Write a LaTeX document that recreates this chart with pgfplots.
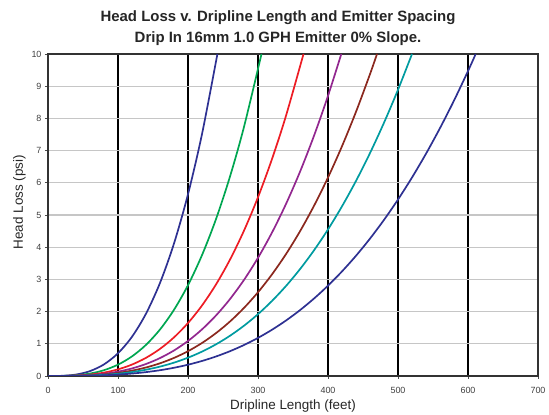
\documentclass[border=0pt]{standalone}
\usepackage{pgfplots}
\pgfplotsset{compat=1.18}
\usepackage{fontspec}
\setmainfont{Liberation Sans}
\definecolor{cblue}{RGB}{46,49,146}
\definecolor{cgreen}{RGB}{0,166,81}
\definecolor{cred}{RGB}{237,28,36}
\definecolor{cpurple}{RGB}{146,39,143}
\definecolor{cbrown}{RGB}{139,40,30}
\definecolor{cteal}{RGB}{0,155,160}
\definecolor{cblue2}{RGB}{46,49,146}
\begin{document}
\begin{tikzpicture}
\useasboundingbox (-48bp,-39bp) rectangle (501bp,376bp);
\begin{axis}[
  at={(0,0)}, anchor=south west,
  width=490bp, height=322bp, scale only axis,
  xmin=0, xmax=700, ymin=0, ymax=10,
  xtick={0,100,...,700}, ytick={0,1,...,10},
  xmajorgrids, ymajorgrids,
  x grid style={black, line width=2.8bp},
  y grid style={gray!45, line width=1.1bp},
  axis line style={black!80, line width=1.8bp},
  tick style={black!70, line width=0.6bp},
  tick align=outside, major tick length=3bp,
  xtick pos=bottom, ytick pos=left,
  ticklabel style={font=\fontsize{9}{10}\selectfont, text=black!75},
  xticklabel style={yshift=-5bp},
  /pgf/number format/assume math mode=true,
  xlabel={Dripline Length (feet)},
  ylabel={Head Loss (psi)},
  label style={font=\fontsize{13.5}{15}\selectfont, text=black!85},
  xlabel style={yshift=1bp},
  ylabel style={at={(ticklabel cs:0.54)}, yshift=-1bp},
  title={Head Loss v. Dripline Length and Emitter Spacing\\Drip In 16mm 1.0 GPH Emitter 0\% Slope.},
  title style={align=center, font=\bfseries\fontsize{15}{20.5}\selectfont, text=black!85, yshift=-1bp, xshift=-15bp},
  every axis plot/.append style={line width=1.7bp, no marks, smooth},
]
\addplot[cblue] coordinates {(0,0)(20,0.0056)(40,0.0452)(60,0.152)(80,0.361)(100,0.706)(120,1.219)(140,1.936)(160,2.890)(180,4.115)(200,5.645)(220,7.513)(242,10)};
\addplot[cgreen] coordinates {(0,0)(20,0.0028)(40,0.0226)(60,0.0761)(80,0.1805)(100,0.3525)(120,0.609)(140,0.967)(160,1.444)(180,2.056)(200,2.820)(220,3.753)(240,4.872)(260,6.195)(280,7.737)(305,10)};
\addplot[cred] coordinates {(0,0)(20,0.0017)(40,0.0132)(60,0.0444)(80,0.1053)(100,0.2056)(120,0.3554)(140,0.5643)(160,0.8423)(180,1.1993)(200,1.6452)(220,2.1897)(240,2.8429)(260,3.6145)(280,4.5144)(300,5.5520)(320,6.7381)(340,8.0820)(365,10)};
\addplot[cpurple] coordinates {(0,0)(20,0.0011)(40,0.0087)(60,0.0294)(80,0.0696)(100,0.1359)(120,0.2349)(140,0.3730)(160,0.5568)(180,0.7928)(200,1.0876)(220,1.4475)(240,1.8793)(260,2.3894)(280,2.9842)(300,3.6705)(320,4.4546)(340,5.3432)(360,6.3424)(380,7.4595)(400,8.7003)(419,10)};
\addplot[cbrown] coordinates {(0,0)(20,0.0008)(40,0.0062)(60,0.0208)(80,0.0493)(100,0.0963)(120,0.1664)(140,0.2643)(160,0.3945)(180,0.5617)(200,0.7705)(220,1.0256)(240,1.3315)(260,1.6929)(280,2.1144)(300,2.6006)(320,3.1562)(340,3.7857)(360,4.4938)(380,5.2851)(400,6.1643)(420,7.1360)(440,8.2047)(460,9.375)(470,10)};
\addplot[cteal] coordinates {(0,0)(20,0.0006)(40,0.0046)(60,0.0154)(80,0.0364)(100,0.0711)(120,0.1229)(140,0.1952)(160,0.2913)(180,0.4148)(200,0.5690)(220,0.7573)(240,0.9832)(260,1.25)(280,1.5612)(300,1.9202)(320,2.3305)(340,2.7954)(360,3.3183)(380,3.9025)(400,4.5517)(420,5.2691)(440,6.0583)(460,6.9227)(480,7.8658)(500,8.8900)(520,10)};
\addplot[cblue2] coordinates {(0,0)(20,0.0004)(40,0.0028)(60,0.0095)(80,0.0225)(100,0.0438)(120,0.0758)(140,0.1203)(160,0.1796)(180,0.2557)(200,0.3507)(220,0.4668)(240,0.6061)(260,0.7705)(280,0.9624)(300,1.1837)(320,1.4366)(340,1.7231)(360,2.0454)(380,2.4056)(400,2.8058)(420,3.2481)(440,3.7345)(460,4.2673)(480,4.8484)(500,5.4800)(520,6.1643)(540,6.9033)(560,7.6991)(580,8.5538)(600,9.4696)(611,10)};
\end{axis}
\end{tikzpicture}
\end{document}
